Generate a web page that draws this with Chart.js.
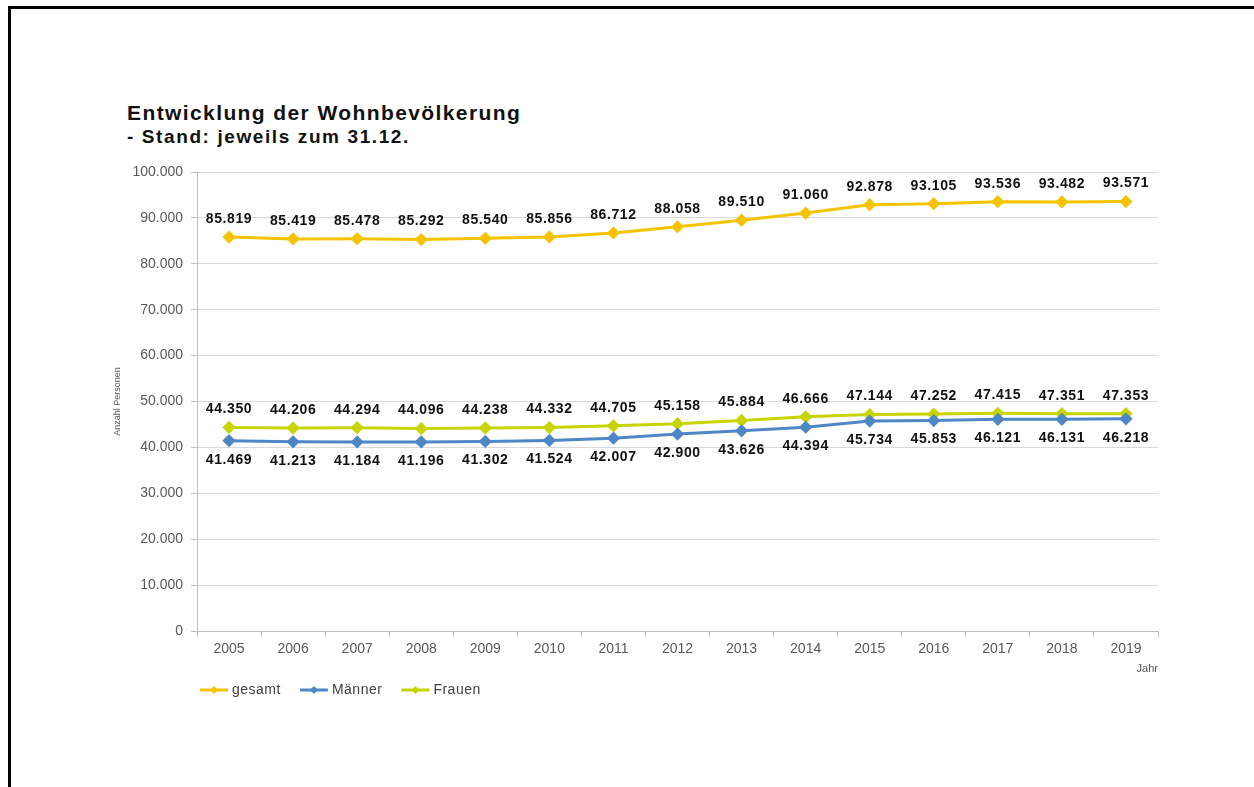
<!DOCTYPE html>
<html lang="de">
<head>
<meta charset="utf-8">
<title>Entwicklung der Wohnbevölkerung</title>
<script src="https://cdn.jsdelivr.net/npm/chart.js@4.4.1/dist/chart.umd.min.js"></script>
<style>
  html, body { margin: 0; padding: 0; background: #fff; }
  #wrap { position: relative; width: 1254px; height: 787px; overflow: hidden; font-family: "Liberation Sans", Arial, sans-serif; }
  #frame { position: absolute; left: 8px; top: 6px; width: 1260px; height: 800px; border-top: 3px solid #000; border-left: 3px solid #000; box-sizing: border-box; }
  #title { position: absolute; left: 127px; top: 101px; font-size: 21px; font-weight: bold; letter-spacing: 1.4px; color: #111; white-space: nowrap; }
  #subtitle { position: absolute; left: 127px; top: 126px; font-size: 19px; font-weight: bold; letter-spacing: 1.6px; color: #111; white-space: nowrap; }
  canvas { position: absolute; left: 0; top: 0; }
</style>
</head>
<body>
<div id="wrap">
  <div id="frame"></div>
  <div id="title">Entwicklung der Wohnbevölkerung</div>
  <div id="subtitle">- Stand: jeweils zum 31.12.</div>
  <canvas id="chart" width="1254" height="787"></canvas>
</div>
<script>
// Jahre (Stand jeweils 31.12.)
const years = ['2005', '2006', '2007', '2008', '2009', '2010', '2011', '2012',
               '2013', '2014', '2015', '2016', '2017', '2018', '2019'];

// Wohnbevölkerung insgesamt
const gesamt = [85819, 85419, 85478, 85292, 85540, 85856, 86712, 88058,
                89510, 91060, 92878, 93105, 93536, 93482, 93571];

// Männer
const maenner = [41469, 41213, 41184, 41196, 41302, 41524, 42007, 42900,
                 43626, 44394, 45734, 45853, 46121, 46131, 46218];

// Frauen
const frauen = [44350, 44206, 44294, 44096, 44238, 44332, 44705, 45158,
                45884, 46666, 47144, 47252, 47415, 47351, 47353];

// Achsenbeschriftungen
const yAxisTitle = 'Anzahl Personen';
const xAxisTitle = 'Jahr';

const COLORS = { gesamt: '#F6C300', maenner: '#4F86C6', frauen: '#C8D400' };
const fmt = v => v.toLocaleString('de-DE');
const FONT = '"Liberation Sans", Arial, sans-serif';

// Wertebeschriftung über/unter den Punkten
const valueLabels = {
  id: 'valueLabels',
  afterDatasetsDraw(chart) {
    const ctx = chart.ctx;
    ctx.save();
    ctx.font = 'bold 14px ' + FONT;
    if ('letterSpacing' in ctx) ctx.letterSpacing = '0.6px';
    ctx.fillStyle = '#111';
    ctx.textAlign = 'center';
    ctx.textBaseline = 'middle';
    chart.data.datasets.forEach((ds, di) => {
      const meta = chart.getDatasetMeta(di);
      meta.data.forEach((pt, i) => {
        const dy = ds.labelPos === 'below' ? 19 : -18;
        ctx.fillText(fmt(ds.data[i]), pt.x, pt.y + dy);
      });
    });
    ctx.restore();
  }
};

// Legende: Linie mit Raute, wie die Datenreihen
const lineLegend = {
  id: 'lineLegend',
  afterDraw(chart) {
    const ctx = chart.ctx;
    const y = chart.chartArea.bottom + 59;
    let x = chart.chartArea.left + 3;
    ctx.save();
    ctx.font = '14px ' + FONT;
    if ('letterSpacing' in ctx) ctx.letterSpacing = '0.5px';
    ctx.textBaseline = 'middle';
    ctx.textAlign = 'left';
    chart.data.datasets.forEach(ds => {
      ctx.strokeStyle = ds.borderColor;
      ctx.lineWidth = 3;
      ctx.beginPath();
      ctx.moveTo(x, y);
      ctx.lineTo(x + 28, y);
      ctx.stroke();
      ctx.fillStyle = ds.borderColor;
      ctx.beginPath();
      ctx.moveTo(x + 14, y - 4);
      ctx.lineTo(x + 18, y);
      ctx.lineTo(x + 14, y + 4);
      ctx.lineTo(x + 10, y);
      ctx.closePath();
      ctx.fill();
      ctx.fillStyle = '#404040';
      ctx.fillText(ds.label, x + 32, y);
      x += 32 + ctx.measureText(ds.label).width + 19;
    });
    ctx.restore();
  }
};

const series = (label, data, color, labelPos) => ({
  label, data, labelPos,
  borderColor: color,
  backgroundColor: color,
  borderWidth: 3,
  pointStyle: 'rectRot',
  pointRadius: 4.5,
  pointHoverRadius: 4.5,
  pointBackgroundColor: color,
  pointBorderColor: color,
  tension: 0
});

new Chart(document.getElementById('chart'), {
  type: 'line',
  data: {
    labels: years,
    datasets: [
      series('gesamt', gesamt, COLORS.gesamt, 'above'),
      series('Männer', maenner, COLORS.maenner, 'below'),
      series('Frauen', frauen, COLORS.frauen, 'above')
    ]
  },
  options: {
    responsive: false,
    animation: false,
    events: [],
    layout: { padding: { left: 108, right: 96, top: 172, bottom: 107 } },
    plugins: {
      legend: { display: false },
      title: { display: false },
      tooltip: { enabled: false }
    },
    scales: {
      x: {
        type: 'category',
        offset: true,
        grid: { offset: true, drawOnChartArea: false, drawTicks: true, tickLength: 6, color: '#BFBFBF' },
        border: { display: true, color: '#BFBFBF', width: 1 },
        ticks: { color: '#595959', font: { size: 14, family: FONT }, padding: 4, maxRotation: 0 },
        title: { display: true, text: xAxisTitle, align: 'end', color: '#595959', font: { size: 11, family: FONT }, padding: { top: 4, bottom: 4 } },
        afterFit: s => { s.height = 49; }
      },
      y: {
        min: 0,
        max: 100000,
        ticks: {
          stepSize: 10000,
          color: '#595959',
          padding: 8,
          font: { size: 14, family: FONT },
          callback: v => fmt(v)
        },
        grid: { color: '#D9D9D9', tickLength: 6, tickColor: '#BFBFBF' },
        border: { display: true, color: '#BFBFBF', width: 1 },
        title: { display: true, text: yAxisTitle, color: '#595959', font: { size: 9, family: FONT }, padding: { top: 4, bottom: 4 } },
        afterFit: s => { s.width = 89; }
      }
    }
  },
  plugins: [valueLabels, lineLegend]
});
</script>
</body>
</html>
